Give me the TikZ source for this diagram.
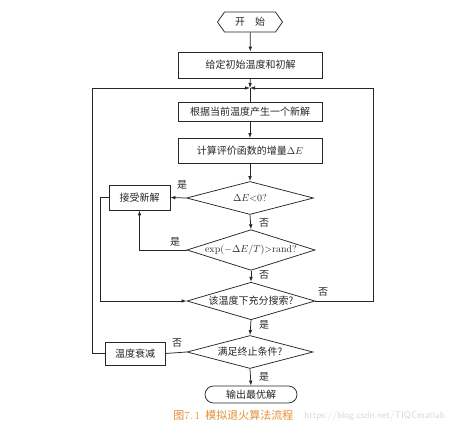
\documentclass[tikz,border=0pt]{standalone}
\usepackage{fontspec}
\newfontfamily\cjkfont{Noto Sans CJK SC}
\usetikzlibrary{arrows.meta,shapes.geometric,shapes.misc,shapes.symbols}
\definecolor{FlowInk}{gray}{0.15}
\definecolor{FlowCaption}{RGB}{226,142,52}
\definecolor{FlowMark}{gray}{0.84}
\tikzset{
    flow/diagram/.style={
        font=\cjkfont\fontsize{10}{12}\selectfont,
        draw=FlowInk,
        text=FlowInk,
        line width=0.75pt,
        every node/.style={inner sep=1pt}
    },
    flow/box/.style={
        draw=FlowInk, rectangle, minimum width=144pt, minimum height=25pt
    },
    flow/smallbox/.style={
        draw=FlowInk, rectangle, minimum width=60pt, minimum height=24pt
    },
    flow/decision/.style={
        draw=FlowInk, diamond, aspect=3, inner sep=0pt,
        minimum width=127pt, minimum height=33pt
    },
    flow/start/.style={
        draw=FlowInk, signal, signal to=west and east,
        signal pointer angle=110, minimum width=65pt, minimum height=20pt
    },
    flow/stop/.style={
        draw=FlowInk, rounded rectangle, minimum width=94pt, minimum height=17pt
    },
    flow/line/.style={draw=FlowInk, line width=0.75pt},
    flow/arrow/.style={
        draw=FlowInk, line width=0.75pt,
        -{Latex[length=5pt, width=3.6pt]}
    },
    flow/label/.style={inner sep=0pt}
}
\begin{document}
\begin{tikzpicture}[flow/diagram, x=1pt, y=-1pt]
    \useasboundingbox (0,0) rectangle (468,438);
    % blocks
    \node[flow/start] (start) at (250,22) {开\quad 始};
    \node[flow/box, minimum height=26pt] (init) at (250.5,65) {给定初始温度和初解};
    \coordinate (join) at (250,88);
    \node[flow/box, minimum height=19pt] (newsol) at (250,111.5) {根据当前温度产生一个新解};
    \node[flow/box] (delta) at (250,151) {计算评价函数的增量$\Delta E$};
    \node[flow/decision] (dneg) at (250,198) {$\Delta E$\rmfamily <0?};
    \node[flow/smallbox, minimum width=61pt, minimum height=25pt] (accept) at (139.5,197.5) {接受新解};
    \node[flow/decision, minimum width=128pt, minimum height=34pt] (dexp) at (251,250)
        {\rmfamily exp($-\Delta E/T$)>rand?};
    \node[flow/decision, minimum width=128pt, minimum height=32pt] (dsearch) at (251,301) {该温度下充分搜索?};
    \node[flow/decision, minimum width=126pt] (dstop) at (250,352) {满足终止条件?};
    \node[flow/smallbox, minimum height=23pt] (decay) at (135,353.5) {温度衰减};
    \node[flow/stop] (output) at (251,394.5) {输出最优解};
    % connectors
    \draw[flow/arrow] (start) -- (init);
    \draw[flow/arrow] (init) -- (join);
    \draw[flow/line] (join) -- (newsol);
    \draw[flow/arrow] (newsol) -- (delta);
    \draw[flow/arrow] (delta.south) -- (dneg.north);
    \draw[flow/arrow] (dneg.west) -- (accept.east);
    \draw[flow/arrow] (dneg.south) -- (dexp.north);
    \draw[flow/arrow] (dexp.west) -| (accept.south);
    \draw[flow/arrow] (accept.west) -- ++(-8,0) |- (dsearch.west);
    \draw[flow/arrow] (dexp.south) -- (dsearch.north);
    \draw[flow/arrow] (dsearch.east) -- ++(58,0) |- (join);
    \draw[flow/arrow] (dsearch.south) -- (dstop.north);
    \draw[flow/line] (dstop.west) -- (decay.east);
    \draw[flow/arrow] (decay.west) -- ++(-12,0) |- (join);
    \draw[flow/arrow] (dstop.south) -- (output.north);
    % yes / no marks
    \node[flow/label] (yes1) at (182,185) {是};
    \node[flow/label] (no1) at (264,223) {否};
    \node[flow/label] (yes2) at (175,242) {是};
    \node[flow/label] (no2) at (264,275) {否};
    \node[flow/label] (no3) at (323,292) {否};
    \node[flow/label] (yes3) at (264,325) {是};
    \node[flow/label] (no4) at (177,343) {否};
    \node[flow/label] (yes4) at (264,377) {是};
    % caption
    \node[text=FlowCaption, font=\cjkfont\fontsize{11}{13}\selectfont, anchor=west]
        (caption) at (172,415) {图{\rmfamily 7.\,1}\enspace 模拟退火算法流程};
    \node[text=FlowMark, font=\sffamily\fontsize{9.6}{12}\selectfont, anchor=west]
        (mark) at (303,416) {https://blog.csdn.net/TIQCmatlab};
\end{tikzpicture}
\end{document}
